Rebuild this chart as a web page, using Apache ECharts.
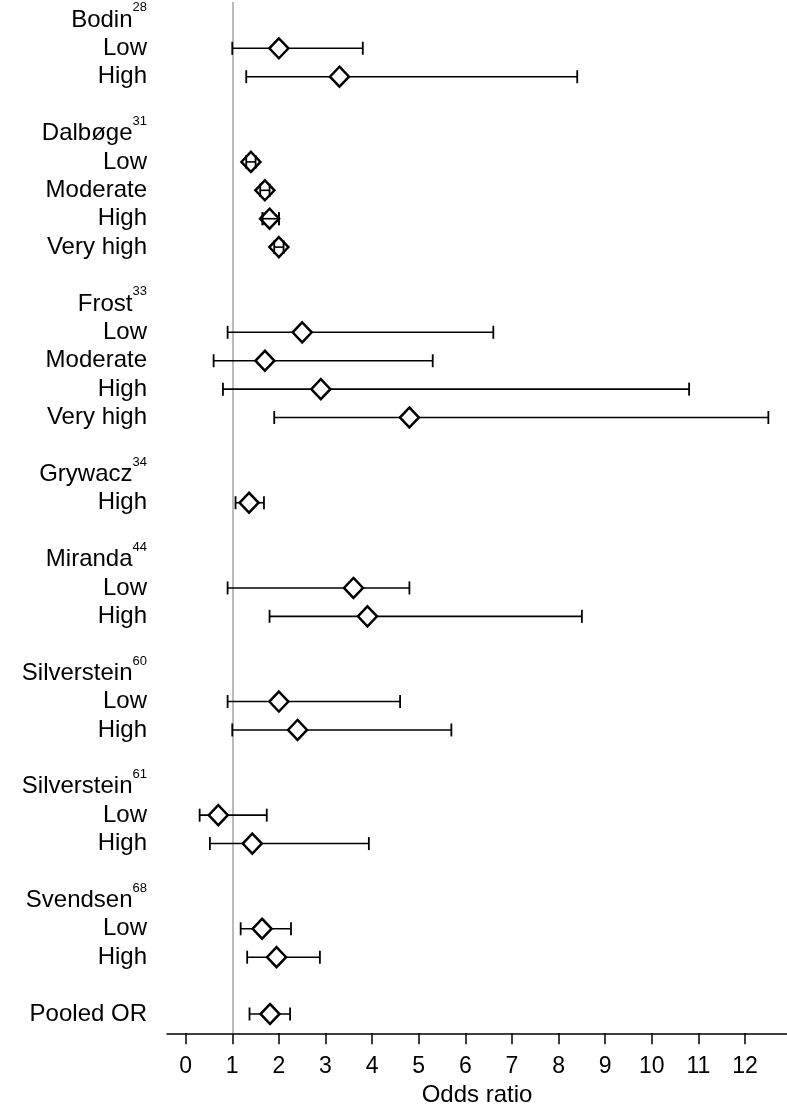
<!DOCTYPE html>
<html>
<head>
<meta charset="utf-8">
<script src="https://cdn.jsdelivr.net/npm/echarts@6/dist/echarts.min.js"></script>
<style>
html,body{margin:0;padding:0;background:#fff;}
#chart{width:787px;height:1104px;}
</style>
</head>
<body>
<div id="chart"></div>
<script>
// Row labels (top to bottom), with reference superscripts for study headers
var rowLabels = ["Bodin","Low","High","",
  "Dalbøge","Low","Moderate","High","Very high","",
  "Frost","Low","Moderate","High","Very high","",
  "Grywacz","High","",
  "Miranda","Low","High","",
  "Silverstein","Low","High","",
  "Silverstein","Low","High","",
  "Svendsen","Low","High","",
  "Pooled OR"];
var rowRefs = ["28","","","",
  "31","","","","","",
  "33","","","","","",
  "34","","",
  "44","","","",
  "60","","","",
  "61","","","",
  "68","","","",
  ""];
// Odds ratios and 95% CI (null for header / blank rows)
var oddsRatio = [null,2.0,3.3,null,
  null,1.4,1.7,1.8,2.0,null,
  null,2.5,1.7,2.9,4.8,null,
  null,1.36,null,
  null,3.6,3.9,null,
  null,2.0,2.4,null,
  null,0.7,1.43,null,
  null,1.64,1.95,null,
  1.81];
var ciLow = [null,1.0,1.3,null,
  null,1.3,1.6,1.65,1.9,null,
  null,0.9,0.6,0.8,1.9,null,
  null,1.07,null,
  null,0.9,1.8,null,
  null,0.9,1.0,null,
  null,0.3,0.52,null,
  null,1.18,1.32,null,
  1.37];
var ciHigh = [null,3.8,8.4,null,
  null,1.5,1.8,2.0,2.1,null,
  null,6.6,5.3,10.8,12.5,null,
  null,1.68,null,
  null,4.8,8.5,null,
  null,4.6,5.7,null,
  null,1.74,3.93,null,
  null,2.26,2.88,null,
  2.24];
var xTicks = [0,1,2,3,4,5,6,7,8,9,10,11,12];
var referenceOR = 1;

var FONT = "'Liberation Sans', Arial, Helvetica, sans-serif";
var DIAMOND_W = 19;
var Y_MIN = -0.63, Y_MAX = 35.68;

var pointData = [];
var ciData = [];
var labelRows = [Y_MIN]; // first (axis-min) slot left empty so every row label is kept
for (var i = 0; i < rowLabels.length; i++) {
  if (rowLabels[i] !== "") labelRows.push(i);
  if (oddsRatio[i] !== null) {
    pointData.push([oddsRatio[i], i]);
    ciData.push([ciLow[i], ciHigh[i], i]);
  }
}

function makeCI(onlyNarrow) {
  return function (params, api) {
    var lo = api.coord([api.value(0), api.value(2)]);
    var hi = api.coord([api.value(1), api.value(2)]);
    var span = hi[0] - lo[0];
    var isNarrow = span < DIAMOND_W;
    if (onlyNarrow && !isNarrow) return null;
    var y = lo[1], h = 6.5;
    var st = { stroke: '#000', lineWidth: 1.6 };
    return {
      type: 'group',
      children: [
        { type: 'line', shape: { x1: lo[0], y1: y, x2: hi[0], y2: y }, style: st },
        { type: 'line', shape: { x1: lo[0], y1: y - h, x2: lo[0], y2: y + h }, style: { stroke: '#000', lineWidth: 1.8 } },
        { type: 'line', shape: { x1: hi[0], y1: y - h, x2: hi[0], y2: y + h }, style: { stroke: '#000', lineWidth: 1.8 } }
      ]
    };
  };
}

var chart = echarts.init(document.getElementById('chart'), null, { renderer: 'canvas' });
chart.setOption({
  animation: false,
  backgroundColor: '#fff',
  textStyle: { fontFamily: FONT },
  grid: { left: 167, right: 0, top: 2, bottom: 70.7, containLabel: false, outerBoundsMode: 'none' },
  xAxis: {
    type: 'value',
    min: -0.4,
    max: 12.9,
    name: 'Odds ratio',
    nameLocation: 'middle',
    nameGap: 46,
    nameTextStyle: { fontSize: 24, color: '#000', fontFamily: FONT },
    axisLine: { show: true, onZero: false, lineStyle: { color: '#000', width: 1.5 } },
    axisTick: { show: true, customValues: xTicks, length: 11, lineStyle: { color: '#000', width: 1.5 } },
    axisLabel: { customValues: xTicks, fontSize: 23, color: '#000', margin: 22, fontFamily: FONT },
    splitLine: { show: false }
  },
  yAxis: {
    type: 'value',
    inverse: true,
    min: Y_MIN,
    max: Y_MAX,
    axisLine: { show: false },
    axisTick: { show: false },
    splitLine: { show: false },
    axisLabel: {
      customValues: labelRows,
      showMinLabel: false,
      showMaxLabel: true,
      hideOverlap: false,
      fontSize: 24,
      color: '#000',
      margin: 20,
      align: 'right',
      fontFamily: FONT,
      formatter: function (v) {
        if (v < 0) return '';
        var idx = Math.round(v);
        var t = rowLabels[idx];
        if (rowRefs[idx]) t += '{sup|' + rowRefs[idx] + '}';
        return t;
      },
      rich: {
        sup: { fontSize: 13, color: '#000', fontFamily: FONT, lineHeight: 13, padding: [0, 0, 24, 0] }
      }
    }
  },
  series: [
    {
      type: 'custom',
      name: 'ci',
      renderItem: makeCI(false),
      data: ciData,
      z: 2,
      silent: true,
      encode: { x: [0, 1], y: 2 }
    },
    {
      type: 'scatter',
      name: 'or',
      data: pointData,
      symbol: 'diamond',
      symbolSize: [DIAMOND_W, 20],
      itemStyle: { color: '#fff', borderColor: '#000', borderWidth: 2.5, opacity: 1 },
      z: 3,
      silent: true,
      markLine: {
        silent: true,
        symbol: ['none', 'none'],
        label: { show: false },
        lineStyle: { color: '#a3a3a3', width: 1.5, type: 'solid' },
        data: [{ xAxis: referenceOR }],
        z: 1
      }
    },
    {
      type: 'custom',
      name: 'ciInner',
      renderItem: makeCI(true),
      data: ciData,
      z: 4,
      silent: true,
      encode: { x: [0, 1], y: 2 }
    }
  ]
});
</script>
</body>
</html>
